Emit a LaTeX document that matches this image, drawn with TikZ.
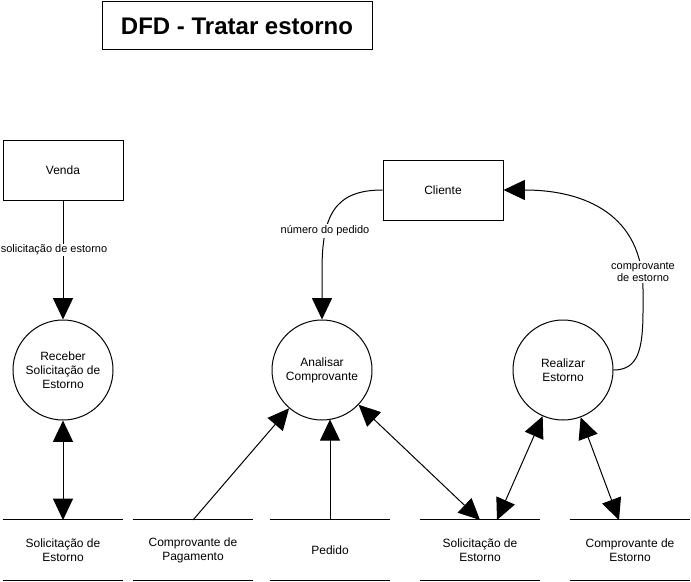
\documentclass[tikz,border=0pt]{standalone}
\usepackage{fontspec}
\setmainfont{Liberation Sans}
\usetikzlibrary{arrows.meta}
\begin{document}
\begin{tikzpicture}[x=0.75pt,y=-0.75pt,
  every node/.style={font=\fontsize{9}{10.5}\selectfont, align=center},
  ent/.style={draw, line width=0.75pt, minimum width=90pt, minimum height=45pt, inner sep=0pt},
  proc/.style={draw, circle, line width=0.75pt, minimum size=75pt, inner sep=0pt},
  storebox/.style={minimum width=90pt, minimum height=45pt, inner sep=0pt},
  storeline/.style={line width=0.9pt},
  flow/.style={line width=0.75pt, -{Triangle[length=16pt,width=15pt]}},
  biflow/.style={line width=0.75pt, {Triangle[length=16pt,width=15pt]}-{Triangle[length=16pt,width=15pt]}},
  lbl/.style={fill=white, font=\fontsize{8.25}{9}\selectfont, inner sep=1pt}
]
\useasboundingbox (0,0) rectangle (691,581);

% title
\node[draw, line width=0.75pt, minimum width=202.5pt, minimum height=36pt, inner sep=0pt]
  (title) at (237,26) {\fontsize{18}{20}\selectfont\bfseries DFD - Tratar estorno};

% external entities
\node[ent] (venda) at (63,170) {Venda};
\node[ent] (cli) at (443,190) {Cliente};

% processes
\node[proc] (rec) at (63,370) {Receber\\Solicitação de\\Estorno};
\node[proc] (ana) at (322,370) {Analisar\\Comprovante};
\node[proc] (rea) at (563,370) {Realizar\\Estorno};

% data stores
\node[storebox] (st1) at (63,550) {Solicitação de\\Estorno};
\node[storebox] (st2) at (193,550) {Comprovante de\\Pagamento};
\node[storebox] (st3) at (330,550) {Pedido};
\node[storebox] (st4) at (480,550) {Solicitação de\\Estorno};
\node[storebox] (st5) at (630,550) {Comprovante de\\Estorno};
\foreach \s in {st1,st2,st3,st4,st5}{
  \draw[storeline] (\s.north west) -- (\s.north east);
  \draw[storeline] (\s.south west) -- (\s.south east);
}

% connector ends
\coordinate (p1) at (63,520);
\coordinate (p2) at (193,520);
\coordinate (p3) at (330,520);
\coordinate (p3t) at (330,419.4);
\coordinate (p4a) at (480,520);
\coordinate (p4b) at (497,520);
\coordinate (p5) at (619,520);

% flows
\draw[flow] (venda.south) -- (rec.north);
\draw[flow] (cli.west) .. controls (335,190) and (322,215) .. (322,270) -- (ana.north);
\draw[flow] (rea.east) .. controls (638,370) and (643,350) .. (643,310) -- (643,290)
  .. controls (643,215) and (585,190) .. (cli.east);

\draw[biflow] (rec.south) -- (p1);
\draw[flow] (p2) -- (ana);
\draw[flow] (p3) -- (p3t);
\draw[biflow] (ana) -- (p4a);
\draw[biflow] (rea) -- (p4b);
\draw[biflow] (rea) -- (p5);

% labels
\node[lbl] (l1) at (54,250) {solicitação de estorno};
\node[lbl] (l2) at (325,231) {número do pedido};
\node[lbl] (l3) at (643,272) {comprovante\\de estorno};
\end{tikzpicture}
\end{document}
